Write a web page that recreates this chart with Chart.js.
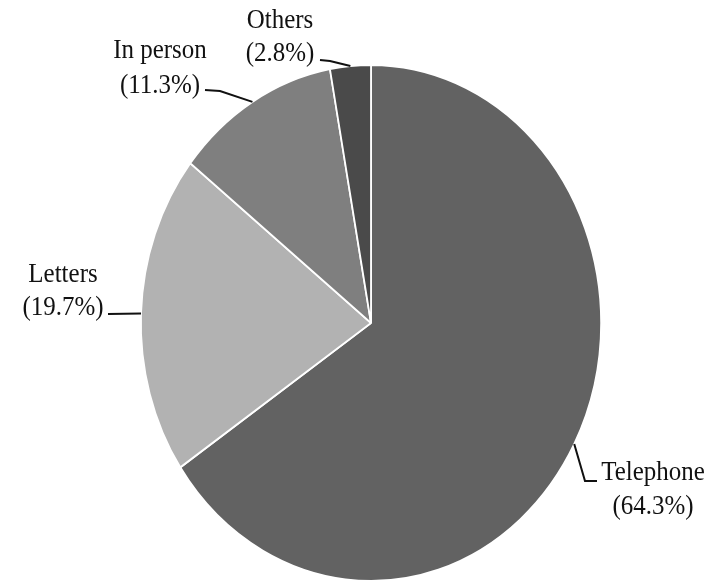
<!DOCTYPE html>
<html>
<head>
<meta charset="utf-8">
<script src="https://cdn.jsdelivr.net/npm/chart.js@4/dist/chart.umd.min.js"></script>
<style>
  html, body { margin: 0; padding: 0; background: #fff; }
  #wrap { width: 726px; height: 583px; position: relative; }
</style>
</head>
<body>
<div id="wrap"><canvas id="pie"></canvas></div>
<script>
(function () {
  "use strict";

  // ── Data ──
  var categories = ["Telephone", "Letters", "In person", "Others"];
  var shares = [64.3, 19.7, 11.3, 2.8];
  var sliceColors = ["#626262", "#b2b2b2", "#7f7f7f", "#4a4a4a"];

  // ── Label placement (text centre, leader bend points) ──
  var labelBoxes = [
    { x: 653, y1: 473, y2: 507, path: [[585, 481], [597, 481]] },
    { x: 63,  y1: 275, y2: 308, path: [[108, 314]] },
    { x: 160, y1: 51,  y2: 86,  path: [[220, 91], [205, 90]] },
    { x: 280, y1: 21,  y2: 54,  path: [[330, 61], [320, 60]] }
  ];

  var SQUASH = 0.892;            // picture is narrower than tall
  var FONT = '28px "Liberation Serif", "Times New Roman", serif';

  function squashCtx(chart) {
    var meta = chart.getDatasetMeta(0);
    var a = meta.data[0];
    var ctx = chart.ctx;
    ctx.translate(a.x, 0);
    ctx.scale(SQUASH, 1);
    ctx.translate(-a.x, 0);
  }

  var ellipsePlugin = {
    id: "ellipse",
    beforeDatasetsDraw: function (chart) {
      chart.ctx.save();
      squashCtx(chart);
    },
    afterDatasetsDraw: function (chart) {
      chart.ctx.restore();
    }
  };

  var labelPlugin = {
    id: "pieLabels",
    afterDraw: function (chart) {
      var ctx = chart.ctx;
      var meta = chart.getDatasetMeta(0);
      meta.data.forEach(function (arc, i) {
        var box = labelBoxes[i];
        var mid = (arc.startAngle + arc.endAngle) / 2;
        var ax = arc.x + SQUASH * arc.outerRadius * Math.cos(mid);
        var ay = arc.y + arc.outerRadius * Math.sin(mid);

        ctx.save();
        ctx.strokeStyle = "#111";
        ctx.lineWidth = 2;
        ctx.beginPath();
        ctx.moveTo(ax, ay);
        box.path.forEach(function (p) { ctx.lineTo(p[0], p[1]); });
        ctx.stroke();
        ctx.restore();

        var pct = "(" + shares[i].toFixed(1) + "%)";
        [[categories[i], box.y1], [pct, box.y2]].forEach(function (t) {
          ctx.save();
          ctx.translate(box.x, t[1]);
          ctx.scale(SQUASH, 1);
          ctx.font = FONT;
          ctx.fillStyle = "#111";
          ctx.textAlign = "center";
          ctx.textBaseline = "middle";
          ctx.fillText(t[0], 0, 0);
          ctx.restore();
        });
      });
    }
  };

  new Chart(document.getElementById("pie"), {
    type: "pie",
    data: {
      labels: categories,
      datasets: [{
        data: shares,
        backgroundColor: sliceColors,
        borderColor: "#ffffff",
        borderWidth: 2
      }]
    },
    options: {
      responsive: true,
      maintainAspectRatio: false,
      animation: false,
      layout: { padding: { top: 64, bottom: 1, left: 16, right: 0 } },
      plugins: {
        legend: { display: false },
        tooltip: { enabled: false }
      }
    },
    plugins: [ellipsePlugin, labelPlugin]
  });
})();
</script>
</body>
</html>
